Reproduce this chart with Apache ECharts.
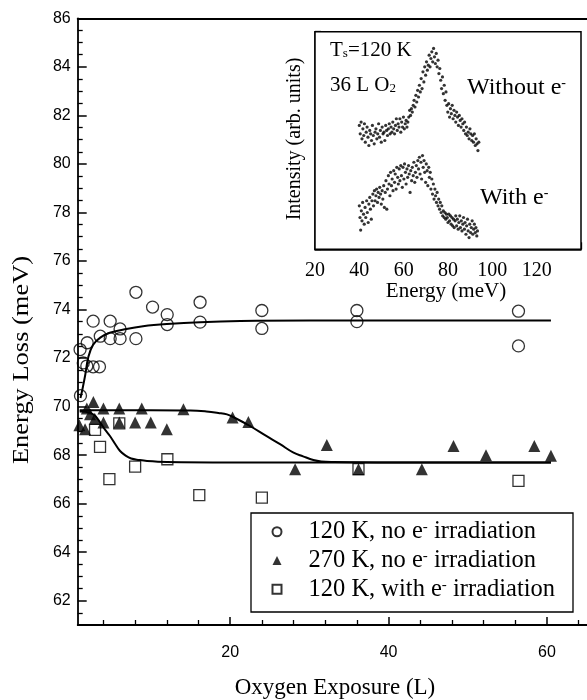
<!DOCTYPE html>
<html>
<head>
<meta charset="utf-8">
<script src="https://cdn.jsdelivr.net/npm/echarts@6/dist/echarts.min.js"></script>
<style>html,body{margin:0;padding:0;background:#fff;}#c{width:587px;height:700px;}</style>
</head>
<body>
<div id="c"></div>
<script>
// ---------- Main chart data (Oxygen exposure in L, energy loss in meV) ----------
const circlesNoIrr120K = [
  [1.05,72.35],[1.1,70.45],[1.45,71.8],[1.9,71.67],[1.95,72.63],[2.7,71.64],[2.7,73.52],
  [3.5,71.64],[3.6,72.9],[4.85,72.8],[4.85,73.52],[6.1,72.8],[6.1,73.2],[8.1,72.8],
  [8.1,74.71],[10.2,74.1],[12.05,73.79],[12.05,73.38],[16.2,74.3],[16.2,73.48],
  [24,73.96],[24,73.22],[36,73.96],[36,73.5],[56.4,73.93],[56.4,72.5]
];
const trianglesNoIrr270K = [
  [0.96,69.23],[1.68,69.07],[1.9,69.92],[2.3,69.68],[2.73,70.19],[2.9,69.5],[4.0,69.92],
  [4.0,69.34],[6.0,69.92],[6.0,69.34],[8.0,69.34],[8.84,69.92],[9.97,69.34],[12.0,69.07],
  [14.1,69.89],[20.3,69.55],[22.3,69.37],[28.2,67.42],[32.2,68.42],[36.2,67.42],
  [44.2,67.42],[48.2,68.38],[52.3,67.99],[58.4,68.38],[60.5,67.97]
];
const squaresIrr120K = [
  [2.94,69.04],[3.57,68.34],[4.75,67.01],[6.0,69.31],[8.0,67.53],[12.07,67.83],
  [16.1,66.35],[24.0,66.25],[36.2,67.42],[56.4,66.94]
];
// fitted guide curves
const curveCircles = [
  [1.1,70.35],[1.4,70.8],[1.7,71.3],[2.1,72.05],[2.7,72.55],[3.6,72.84],[4.8,73.04],
  [6.9,73.2],[9.0,73.31],[12,73.4],[16.2,73.48],[21.3,73.53],[30,73.55],[45,73.55],[60.5,73.55]
];
const curveTriangles = [
  [1.0,69.85],[5,69.85],[10,69.85],[15,69.84],[17,69.8],[18.5,69.74],[19.6,69.68],
  [20.5,69.55],[22.5,69.2],[24.5,68.8],[26.3,68.45],[28,68.1],[29.2,67.95],[30.5,67.8],
  [31.5,67.74],[33,67.72],[40,67.7],[50,67.7],[60.5,67.7]
];
const curveSquares = [
  [1.0,69.8],[2.3,69.75],[3.0,69.6],[3.6,69.34],[4.2,69.05],[4.8,68.8],[5.5,68.45],
  [6.1,68.17],[6.8,67.98],[7.5,67.86],[8.5,67.8],[9.5,67.76],[12,67.72],[20,67.7],[40,67.7],[60.5,67.7]
];
const xMajorTicks = [20,40,60,80];
const xMinorTicks = [4,8,12,16,24,28,32,36,44,48,52,56,64,68,72,76];
const yMajorTicks = [62,64,66,68,70,72,74,76,78,80,82,84,86];
const yMinorTicks = [61.5,62.5,63,63.5,64.5,65,65.5,66.5,67,67.5,68.5,69,69.5,70.5,71,71.5,72.5,73,73.5,
  74.5,75,75.5,76.5,77,77.5,78.5,79,79.5,80.5,81,81.5,82.5,83,83.5,84.5,85,85.5];

const seriesNames = ['120 K, no e- irradiation','270 K, no e- irradiation','120 K, with e- irradiation'];

// ---------- Inset data (energy meV, intensity arb. units) ----------
const insetWithout = [
  [40.0,7.4],[40.4,6.9],[40.8,7.6],[41.2,6.6],[41.6,7.2],[42.0,6.8],[42.3,7.5],[42.7,6.4],[43.1,7.0],[43.5,7.3],
  [43.9,6.7],[44.3,6.2],[44.7,7.1],[45.1,6.9],[45.5,6.5],[45.9,7.4],[46.3,6.8],[46.7,6.3],[47.1,7.0],[47.5,7.2],
  [47.9,6.6],[48.3,6.9],[48.7,7.5],[49.1,6.7],[49.5,7.1],[49.9,6.4],[50.3,7.3],[50.7,6.9],[51.1,7.0],[51.5,6.5],
  [51.9,7.4],[52.3,7.1],[52.7,6.8],[53.1,7.2],[53.5,7.5],[53.9,6.9],[54.3,7.3],[54.7,7.0],[55.1,7.6],[55.5,7.2],
  [55.9,6.9],[56.3,7.4],[56.7,7.8],[57.1,7.1],[57.5,7.5],[57.9,7.3],[58.3,7.8],[58.7,7.0],[59.1,7.6],[59.5,7.3],
  [59.9,7.9],[60.3,7.2],[60.7,7.5],[61.1,7.7],[61.5,7.3],[61.9,7.6],[62.3,7.9],[62.7,8.3],[63.1,8.0],[63.5,8.4],
  [63.9,8.2],[64.3,8.6],[64.7,8.9],[65.1,8.5],[65.5,9.2],[65.9,8.8],[66.3,9.5],[66.7,9.1],[67.1,9.8],[67.5,9.4],
  [67.9,10.2],[68.3,9.6],[68.7,10.6],[69.1,10.0],[69.5,10.9],[69.9,10.4],[70.3,11.2],[70.7,10.7],[71.1,11.0],[71.5,11.6],
  [71.9,10.9],[72.3,11.4],[72.7,11.8],[73.1,11.2],[73.5,12.0],[73.9,11.5],[74.3,11.1],[74.7,11.7],[75.1,10.9],[75.5,11.3],
  [75.9,10.5],[76.3,10.8],[76.7,10.1],[77.1,9.6],[77.5,10.3],[77.9,9.3],[78.3,9.8],[78.7,8.9],[79.1,9.4],[79.5,8.6],
  [79.9,8.2],[80.3,8.7],[80.7,7.9],[81.1,8.4],[81.5,8.1],[81.9,8.6],[82.3,7.8],[82.7,8.3],[83.1,8.0],[83.5,7.6],
  [83.9,8.2],[84.3,7.9],[84.7,7.4],[85.1,8.0],[85.5,7.7],[85.9,7.3],[86.3,7.8],[86.7,7.5],[87.1,7.1],[87.5,7.6],
  [87.9,6.9],[88.3,7.3],[88.7,6.8],[89.1,7.0],[89.5,6.6],[89.9,7.2],[90.3,6.9],[90.7,6.5],[91.1,6.8],[91.5,6.4],
  [91.9,6.9],[92.3,6.2],[92.7,6.6],[93.1,6.3],[93.5,5.9],[93.9,6.4]
];
const insetWith = [
  [40.0,2.6],[40.3,1.9],[40.6,1.15],[40.9,2.3],[41.2,1.7],[41.5,2.8],[41.9,2.1],[42.2,1.5],[42.6,2.5],[42.9,1.9],
  [43.3,2.9],[43.6,2.2],[44.0,1.6],[44.3,2.7],[44.7,3.1],[45.0,2.4],[45.4,1.8],[45.7,2.9],[46.1,3.3],[46.4,2.6],
  [46.8,3.5],[47.1,2.9],[47.5,3.2],[47.8,3.6],[48.2,2.8],[48.5,3.4],[48.9,3.1],[49.2,3.7],[49.6,3.3],[49.9,2.7],
  [50.3,3.5],[50.6,3.0],[51.0,3.8],[51.3,2.5],[51.7,3.4],[52.0,4.1],[52.4,2.4],[52.7,3.6],[53.1,4.4],[53.4,3.9],
  [53.8,3.2],[54.1,4.6],[54.5,3.8],[54.8,4.2],[55.2,3.5],[55.5,4.7],[55.9,4.0],[56.2,4.5],[56.6,3.6],[56.9,4.9],
  [57.3,4.3],[57.6,3.9],[58.0,4.8],[58.3,4.1],[58.7,5.0],[59.0,4.4],[59.4,3.7],[59.7,4.9],[60.1,4.2],[60.4,5.1],
  [60.8,4.6],[61.1,3.9],[61.5,4.8],[61.8,4.3],[62.2,5.0],[62.5,4.5],[62.9,3.4],[63.2,4.7],[63.6,4.1],[63.9,4.9],
  [64.3,4.4],[64.6,5.2],[65.0,4.0],[65.3,4.6],[65.7,5.0],[66.0,4.3],[66.4,5.3],[66.7,4.8],[67.1,5.5],[67.4,4.5],
  [67.8,5.2],[68.1,4.2],[68.5,5.6],[68.8,4.9],[69.2,5.3],[69.5,4.6],[69.9,4.0],[70.2,5.1],[70.6,4.7],[70.9,3.8],
  [71.3,4.9],[71.6,4.3],[72.0,4.6],[72.3,3.6],[72.7,4.2],[73.0,3.3],[73.4,3.9],[73.7,3.0],[74.1,3.6],[74.4,3.2],
  [74.8,2.8],[75.1,3.4],[75.5,2.6],[75.8,3.0],[76.2,2.4],[76.5,2.8],[76.9,2.2],[77.2,2.6],[77.6,2.0],[77.9,2.3],
  [78.3,1.9],[78.6,2.2],[79.0,1.8],[79.3,2.1],[79.7,1.9],[80.0,1.6],[80.4,2.1],[80.7,1.7],[81.1,2.0],[81.4,1.5],
  [81.8,1.9],[82.1,1.4],[82.5,1.8],[82.8,1.3],[83.2,1.7],[83.5,2.0],[83.9,1.4],[84.2,1.8],[84.6,1.2],[84.9,1.6],
  [85.3,2.0],[85.6,1.3],[86.0,1.7],[86.3,1.1],[86.7,1.5],[87.0,1.9],[87.4,1.2],[87.7,1.6],[88.1,0.9],[88.4,1.4],
  [88.8,1.8],[89.1,1.1],[89.5,0.7],[89.8,1.5],[90.2,1.0],[90.5,1.3],[90.9,1.7],[91.2,0.9],[91.6,1.2],[91.9,1.5],
  [92.3,1.0],[92.6,1.3],[93.0,0.8],[93.3,1.1]
];

const SERIF = 'Liberation Serif';
const SANS = 'Liberation Sans';

const chart = echarts.init(document.getElementById('c'), null, {renderer: 'canvas'});

const legendRich = {
  t: {fontFamily: SERIF, fontSize: 24.5, color: '#000', lineHeight: 29.5},
  pad: {width: 22, lineHeight: 29.5},
  sup: {fontFamily: SERIF, fontSize: 15, color: '#000', verticalAlign: 'top', lineHeight: 16, padding: [3,0,0,0]}
};
function legendFmt(name) {
  const parts = name.split('e-');
  return '{pad|}{t|' + parts[0] + 'e}{sup|-}{t|' + parts[1] + '}';
}

const mainXBase = {gridIndex: 0, type: 'value', min: 0.75, max: 80, splitLine: {show: false}};
const mainYBase = {gridIndex: 0, type: 'value', min: 61, max: 86, splitLine: {show: false}};

const option = {
  animation: false,
  backgroundColor: '#fff',
  grid: [
    {left: 77.7, width: 627.7, top: 18.3, height: 606.7, containLabel: false, outerBoundsMode: 'none'},
    {left: 315, width: 266, top: 31.7, height: 217.6, show: true, borderColor: '#000', borderWidth: 1.5,
     backgroundColor: '#fff', z: 1, containLabel: false, outerBoundsMode: 'none'}
  ],
  xAxis: [
    Object.assign({}, mainXBase, {
      position: 'bottom',
      axisLine: {show: true, lineStyle: {color: '#000', width: 1.8}},
      axisTick: {show: true, inside: true, length: 8, customValues: xMajorTicks, lineStyle: {color: '#000', width: 1.5}},
      axisLabel: {show: true, customValues: xMajorTicks, margin: 20, fontFamily: SANS, fontSize: 16, color: '#000'}
    }),
    Object.assign({}, mainXBase, {
      position: 'bottom',
      axisLine: {show: false},
      axisTick: {show: true, inside: true, length: 5, customValues: xMinorTicks, lineStyle: {color: '#000', width: 1.3}},
      axisLabel: {show: false}
    }),
    Object.assign({}, mainXBase, {
      position: 'top',
      axisLine: {show: true, lineStyle: {color: '#000', width: 1.8}},
      axisTick: {show: false},
      axisLabel: {show: false}
    }),
    {
      gridIndex: 1, type: 'value', min: 20, max: 140, interval: 20,
      splitLine: {show: false},
      axisLine: {show: true, lineStyle: {color: '#000', width: 1.5}},
      axisTick: {show: true, inside: true, length: 7, lineStyle: {color: '#000', width: 1.3}},
      minorTick: {show: true, splitNumber: 4, length: 4, lineStyle: {color: '#000', width: 1.2}},
      axisLabel: {show: true, margin: 11, fontFamily: SERIF, fontSize: 20, color: '#000', showMaxLabel: false}
    }
  ],
  yAxis: [
    Object.assign({}, mainYBase, {
      position: 'left',
      axisLine: {show: true, lineStyle: {color: '#000', width: 1.8}},
      axisTick: {show: true, inside: true, length: 9, customValues: yMajorTicks, lineStyle: {color: '#000', width: 1.5}},
      axisLabel: {show: true, customValues: yMajorTicks, margin: 7, fontFamily: SANS, fontSize: 16, color: '#000'}
    }),
    Object.assign({}, mainYBase, {
      position: 'left',
      axisLine: {show: false},
      axisTick: {show: true, inside: true, length: 5, customValues: yMinorTicks, lineStyle: {color: '#000', width: 1.3}},
      axisLabel: {show: false}
    }),
    {
      gridIndex: 1, type: 'value', min: 0, max: 13, interval: 1,
      splitLine: {show: false},
      axisLine: {show: true, lineStyle: {color: '#000', width: 1.5}},
      axisTick: {show: true, inside: true, length: 6, lineStyle: {color: '#000', width: 1.3}},
      axisLabel: {show: false}
    }
  ],
  legend: {
    show: true,
    orient: 'vertical',
    left: 271.5, top: 517,
    padding: 0,
    itemGap: 1.5,
    itemWidth: 9, itemHeight: 9,
    data: seriesNames,
    formatter: legendFmt,
    textStyle: {rich: legendRich, color: '#000'},
    z: 10
  },
  series: [
    {type: 'line', xAxisIndex: 0, yAxisIndex: 0, data: curveCircles, smooth: 0.4, showSymbol: false, symbol: 'none',
     lineStyle: {color: '#000', width: 2}, z: 3, silent: true},
    {type: 'line', xAxisIndex: 0, yAxisIndex: 0, data: curveTriangles, smooth: 0.4, showSymbol: false, symbol: 'none',
     lineStyle: {color: '#000', width: 2}, z: 3, silent: true},
    {type: 'line', xAxisIndex: 0, yAxisIndex: 0, data: curveSquares, smooth: 0.4, showSymbol: false, symbol: 'none',
     lineStyle: {color: '#000', width: 2}, z: 3, silent: true},
    {name: seriesNames[0], type: 'scatter', xAxisIndex: 0, yAxisIndex: 0, data: circlesNoIrr120K,
     symbol: 'circle', symbolSize: 12,
     itemStyle: {color: 'rgba(255,255,255,0)', borderColor: '#000', borderWidth: 1.3}, z: 4},
    {name: seriesNames[1], type: 'scatter', xAxisIndex: 0, yAxisIndex: 0, data: trianglesNoIrr270K,
     symbol: 'triangle', symbolSize: 12,
     itemStyle: {color: '#000', borderColor: '#000', borderWidth: 0}, z: 4},
    {name: seriesNames[2], type: 'scatter', xAxisIndex: 0, yAxisIndex: 0, data: squaresIrr120K,
     symbol: 'rect', symbolSize: 11,
     itemStyle: {color: 'rgba(255,255,255,0)', borderColor: '#000', borderWidth: 1.3}, z: 4},
    {type: 'scatter', xAxisIndex: 3, yAxisIndex: 2, data: insetWithout, symbol: 'circle', symbolSize: 3.2,
     itemStyle: {color: '#000'}, z: 5, silent: true},
    {type: 'scatter', xAxisIndex: 3, yAxisIndex: 2, data: insetWith, symbol: 'circle', symbolSize: 3.2,
     itemStyle: {color: '#000'}, z: 5, silent: true}
  ],
  graphic: [
    {type: 'rect', shape: {x: 251, y: 513, width: 322, height: 99}, z: 2,
     style: {fill: '#fff', stroke: '#000', lineWidth: 1.3}},
    {type: 'text', x: 22, y: 360, rotation: Math.PI / 2, scaleX: 1.15, z: 10,
     style: {text: 'Energy Loss (meV)', font: '23px "Liberation Serif"', fill: '#000', align: 'center', verticalAlign: 'middle'}},
    {type: 'text', x: 335, y: 688, z: 10,
     style: {text: 'Oxygen Exposure (L)', font: '23px "Liberation Serif"', fill: '#000', align: 'center', verticalAlign: 'middle'}},
    {type: 'text', x: 295, y: 139, rotation: Math.PI / 2, z: 10,
     style: {text: 'Intensity (arb. units)', font: '20px "Liberation Serif"', fill: '#000', align: 'center', verticalAlign: 'middle'}},
    {type: 'text', x: 446, y: 291, z: 10,
     style: {text: 'Energy (meV)', font: '21px "Liberation Serif"', fill: '#000', align: 'center', verticalAlign: 'middle'}},
    {type: 'text', x: 330, y: 50, z: 10,
     style: {text: '{a|T}{b|s}{a|=120 K}', align: 'left', verticalAlign: 'middle',
       rich: {a: {fontFamily: SERIF, fontSize: 21, color: '#000'}, b: {fontFamily: SERIF, fontSize: 13, color: '#000', verticalAlign: 'bottom', padding: [8,0,0,0]}}}},
    {type: 'text', x: 330, y: 85, z: 10,
     style: {text: '{a|36 L O}{b|2}', align: 'left', verticalAlign: 'middle',
       rich: {a: {fontFamily: SERIF, fontSize: 21, color: '#000'}, b: {fontFamily: SERIF, fontSize: 13, color: '#000', verticalAlign: 'bottom', padding: [8,0,0,0]}}}},
    {type: 'text', x: 467, y: 88, z: 10,
     style: {text: '{a|Without e}{b|-}', align: 'left', verticalAlign: 'middle',
       rich: {a: {fontFamily: SERIF, fontSize: 24, color: '#000'}, b: {fontFamily: SERIF, fontSize: 14, color: '#000', verticalAlign: 'top', padding: [0,0,9,0]}}}},
    {type: 'text', x: 480, y: 198, z: 10,
     style: {text: '{a|With e}{b|-}', align: 'left', verticalAlign: 'middle',
       rich: {a: {fontFamily: SERIF, fontSize: 24, color: '#000'}, b: {fontFamily: SERIF, fontSize: 14, color: '#000', verticalAlign: 'top', padding: [0,0,9,0]}}}}
  ]
};
chart.setOption(option);
</script>
</body>
</html>
